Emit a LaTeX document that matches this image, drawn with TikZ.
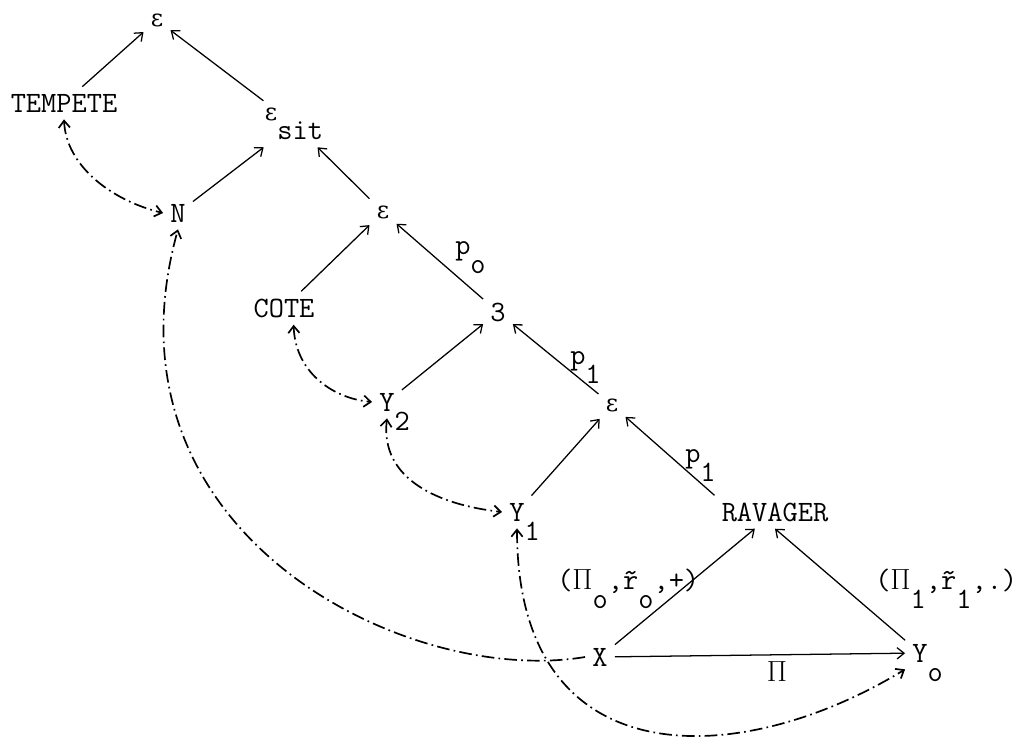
\documentclass[tikz,border=0pt]{standalone}
\usepackage{fontspec}
\newfontfamily\grk{DejaVu Serif}
\usetikzlibrary{arrows.meta}
% index set low, taking no room in the node
\newcommand{\idx}[1]{\rlap{\smash{\raisebox{-0.65em}{#1}}}}
% index set low, inside the text
\newcommand{\dn}[1]{\raisebox{-0.65em}{#1}}
\newcommand{\eps}{{\grk\fontsize{17}{20}\selectfont ε}}
\newcommand{\PI}{$\Pi$}

\begin{document}
\begin{tikzpicture}[
  x=0.025cm, y=-0.025cm,
  >={Straight Barb[length=5pt,width=8pt]},
  every node/.style={font=\ttfamily\fontsize{21}{24}\selectfont, inner sep=5pt},
  tag/.style={inner sep=0pt, anchor=base west},
  arr/.style={line width=0.9pt, ->},
  link/.style={line width=1.2pt, dash pattern=on 9pt off 3pt on 1.2pt off 3pt},
]
\useasboundingbox (0,0) rectangle (1021,745);

% tree
\node (etop) at (157,20) {\eps};
\node (tempete) at (64,103) {TEMPETE};
\node (esit) at (294,124) {\eps\dn{sit}};
\node (n) at (178,213) {N};
\node (emid) at (383,212) {\eps};
\node (cote) at (284,308) {COTE};
\node (three) at (498,312) {3};
\node (ytwo) at (387,402) {Y\idx{2}};
\node (eright) at (612,405) {\eps};
\node (yone) at (517,512) {Y\idx{1}};
\node (ravager) at (775,512) {RAVAGER};
\node (X) at (600,657) {X};
\node (yo) at (920,653) {Y\idx{o}};

% labels
\node[tag] (lpo) at (455,254) {p\dn{o}};
\node[tag] (lpone) at (570,364) {p\dn{1}};
\node[tag] (lptwo) at (685,462) {p\dn{1}};
\node[tag] (lpizero) at (557,589) {(\PI\dn{o},\~r\dn{o},+)};
\node[tag] (lpione) at (875,589) {(\PI\dn{1},\~r\dn{1},.)};
\node (lpi) at (777,672) {\PI};

% solid arrows
\draw[arr] (tempete) -- (etop);
\draw[arr] (esit) -- (etop);
\draw[arr] (n) -- (esit);
\draw[arr] (emid) -- (esit);
\draw[arr] (cote) -- (emid);
\draw[arr] (three) -- (emid);
\draw[arr] (ytwo) -- (three);
\draw[arr] (eright) -- (three);
\draw[arr] (yone) -- (eright);
\draw[arr] (ravager.north west) -- (eright);
\draw[arr] (X) -- (ravager);
\draw[arr] (yo) -- (ravager.south);
\draw[arr] (X) -- (yo);

% dash-dot links
\draw[link, <->] (tempete.south) .. controls (66,165) and (110,200) .. (n.west);
\draw[link, <->] (cote.-60) .. controls (295,370) and (330,398) .. (ytwo.west);
\draw[link, <->] (ytwo.south) .. controls (380,480) and (440,505) .. (yone.west);
\draw[link, ->] (X.west) .. controls (405,687) and (94,532) .. (n.south);
\draw[link, <->] (yone.south) .. controls (517,780) and (740,770) .. (yo.south west);
\end{tikzpicture}
\end{document}
